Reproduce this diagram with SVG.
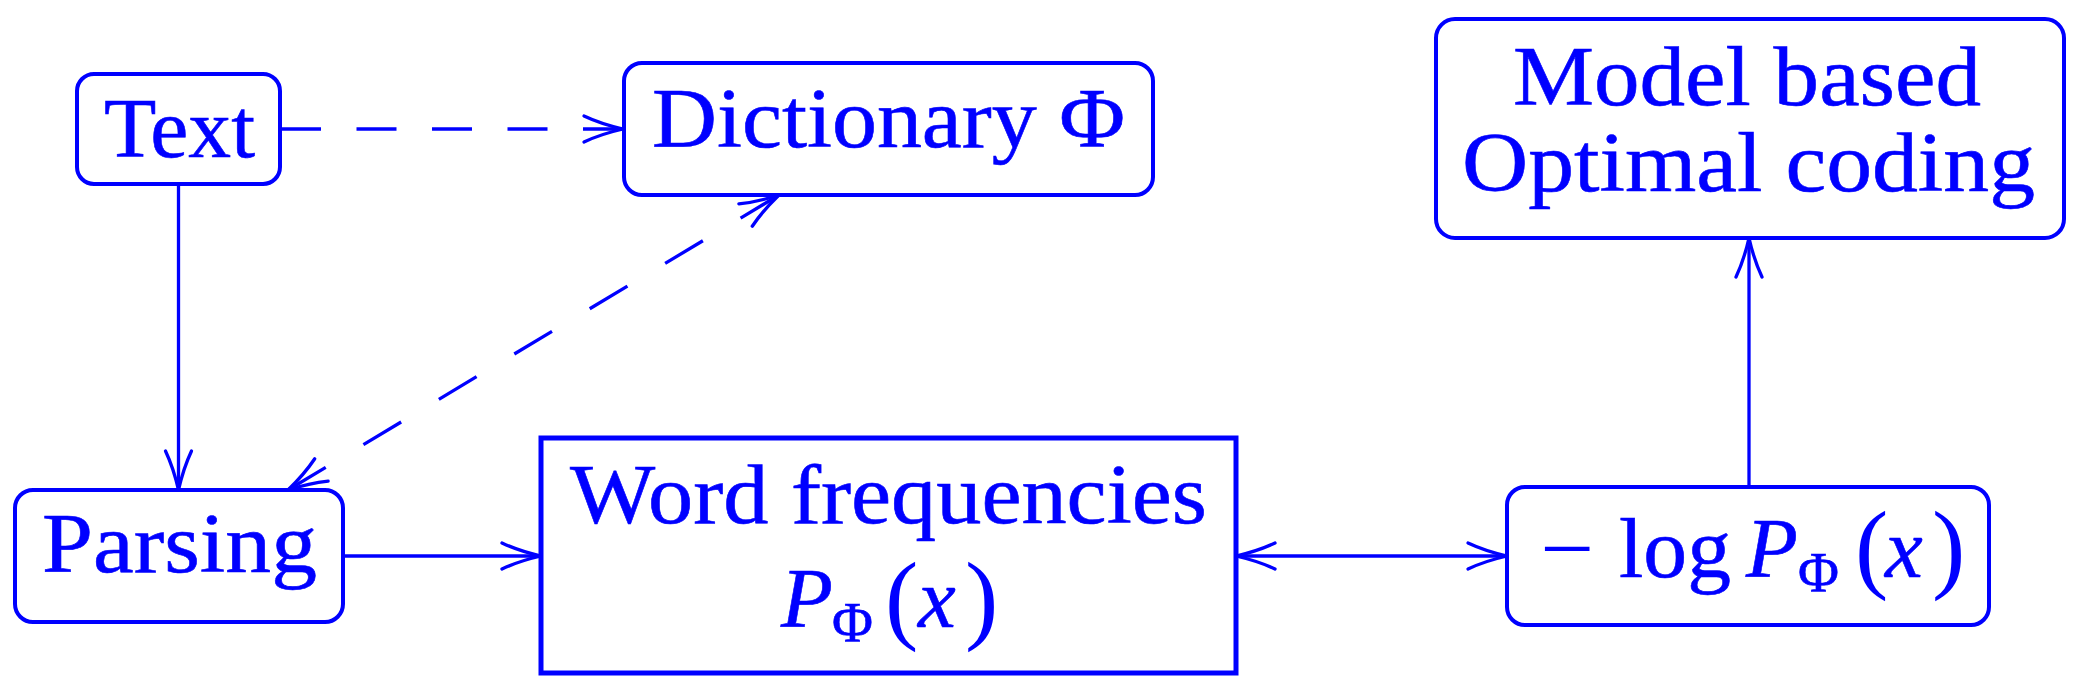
<svg xmlns="http://www.w3.org/2000/svg" width="2079" height="697" viewBox="0 0 2079 697">
<style>
.box{fill:none;stroke:#0000ff;stroke-width:4}
.sq{fill:none;stroke:#0000ff;stroke-width:5}
.ln{fill:none;stroke:#0000ff;stroke-width:3.3}
.t{font-family:"Liberation Serif",serif;font-size:85px;fill:#0000ff;stroke:#0000ff;stroke-width:0.6}
.it{font-style:italic}
.sub{font-size:56px}
.par{font-size:100px;stroke-width:0}
</style>
<defs>
<marker id="ah" markerUnits="userSpaceOnUse" orient="auto-start-reverse" refX="0" refY="0" markerWidth="60" markerHeight="40" overflow="visible">
<path d="M -39,-13 Q -22,-5 0,0 Q -22,5 -39,13" fill="none" stroke="#0000ff" stroke-width="3.3" stroke-dasharray="none" stroke-linecap="round"/>
</marker>
</defs>
<rect width="2079" height="697" fill="#ffffff"/>
<g id="connectors">
<path class="ln" d="M 281,129 L 623,129" stroke-dasharray="40 35.5" marker-end="url(#ah)"/>
<path class="ln" d="M 288,490 L 779,195" stroke-dasharray="44 44" marker-start="url(#ah)" marker-end="url(#ah)"/>
<path class="ln" d="M 178.5,185 L 178.5,490" marker-end="url(#ah)"/>
<path class="ln" d="M 343,556 L 541,556" marker-end="url(#ah)"/>
<path class="ln" d="M 1236,556 L 1507,556" marker-start="url(#ah)" marker-end="url(#ah)"/>
<path class="ln" d="M 1749,487 L 1749,238" marker-end="url(#ah)"/>
</g>
<g id="text-node">
<rect class="box" x="77" y="74" width="203" height="110" rx="17"/>
<text class="t" x="104" y="157" textLength="151" lengthAdjust="spacingAndGlyphs">Text</text>
</g>
<g id="dictionary">
<rect class="box" x="624" y="63" width="529" height="132" rx="18"/>
<text class="t" x="652" y="147" textLength="473" lengthAdjust="spacingAndGlyphs">Dictionary Φ</text>
</g>
<g id="model">
<rect class="box" x="1436" y="19" width="628" height="219" rx="19"/>
<text class="t" x="1513" y="105" textLength="468" lengthAdjust="spacingAndGlyphs">Model based</text>
<text class="t" x="1462" y="191" textLength="573" lengthAdjust="spacingAndGlyphs">Optimal coding</text>
</g>
<g id="parsing">
<rect class="box" x="15" y="490" width="328" height="132" rx="18"/>
<text class="t" x="42" y="572" textLength="275" lengthAdjust="spacingAndGlyphs">Parsing</text>
</g>
<g id="word-frequencies">
<rect class="sq" x="541" y="438" width="695" height="235"/>
<text class="t" x="570" y="523" textLength="637" lengthAdjust="spacingAndGlyphs">Word frequencies</text>
<text class="t it" x="781" y="627">P</text>
<text class="t sub" x="832" y="642">Φ</text>
<text class="t par" x="885" y="631">(</text>
<text class="t it" x="918" y="627">x</text>
<text class="t par" x="965" y="631">)</text>
</g>
<g id="neglog">
<rect class="box" x="1507" y="487" width="482" height="138" rx="18"/>
<text class="t" x="1540" y="577" textLength="54" lengthAdjust="spacingAndGlyphs" style="stroke-width:0">−</text>
<text class="t" x="1619" y="577" textLength="112" lengthAdjust="spacingAndGlyphs">log</text>
<text class="t it" x="1746" y="577">P</text>
<text class="t sub" x="1798" y="592">Φ</text>
<text class="t par" x="1855" y="580">(</text>
<text class="t it" x="1885" y="577">x</text>
<text class="t par" x="1932" y="580">)</text>
</g>
</svg>
